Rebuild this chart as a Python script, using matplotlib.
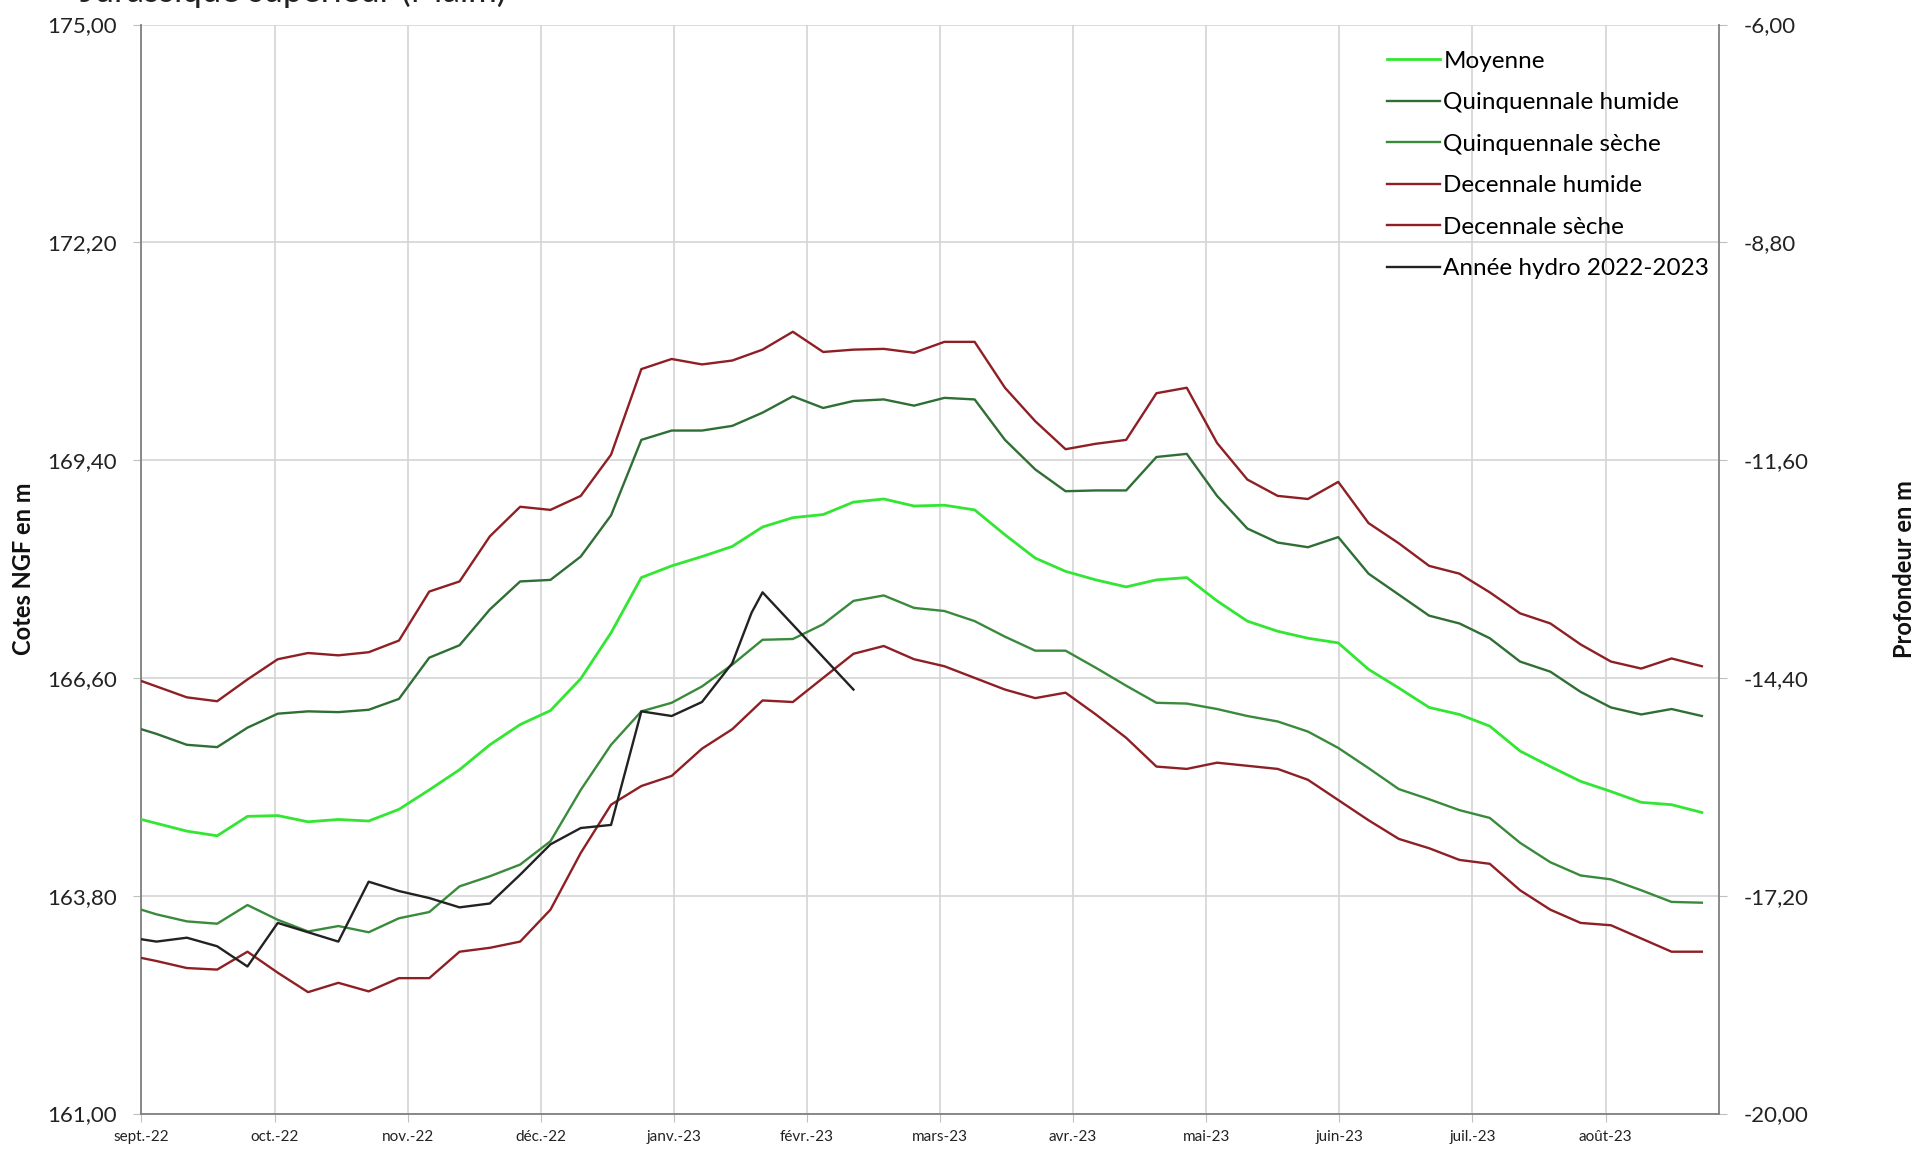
import matplotlib
matplotlib.use("Agg")
import matplotlib.pyplot as plt
from matplotlib.ticker import FuncFormatter, FixedLocator

plt.rcParams['font.family'] = ['Lato', 'DejaVu Sans']

# ---------------- data ----------------
month_labels = ["sept.-22", "oct.-22", "nov.-22", "déc.-22", "janv.-23", "févr.-23",
                "mars-23", "avr.-23", "mai-23", "juin-23", "juil.-23", "août-23"]

# x positions in "week" units (first point at origin, then weekly values)
x_week = [0.0] + [0.5 + k for k in range(52)]

moyenne = [164.78, 164.73, 164.63, 164.57, 164.82, 164.83, 164.75, 164.78, 164.76, 164.91,
           165.16, 165.42, 165.74, 166.00, 166.18, 166.59, 167.18, 167.89, 168.04, 168.16,
           168.29, 168.54, 168.66, 168.70, 168.86, 168.90, 168.81, 168.82, 168.76, 168.44,
           168.14, 167.97, 167.86, 167.77, 167.86, 167.89, 167.59, 167.33, 167.20, 167.11,
           167.05, 166.71, 166.47, 166.22, 166.13, 165.98, 165.66, 165.46, 165.27, 165.14,
           165.00, 164.97, 164.87]

quinq_humide = [165.94, 165.88, 165.74, 165.71, 165.96, 166.14, 166.17, 166.16, 166.19, 166.33,
                166.86, 167.02, 167.48, 167.84, 167.86, 168.16, 168.69, 169.66, 169.78, 169.78,
                169.84, 170.01, 170.22, 170.07, 170.16, 170.18, 170.10, 170.20, 170.18, 169.66,
                169.28, 169.00, 169.01, 169.01, 169.44, 169.48, 168.94, 168.52, 168.34, 168.28,
                168.41, 167.94, 167.67, 167.40, 167.30, 167.11, 166.81, 166.68, 166.42, 166.22,
                166.13, 166.20, 166.11]

quinq_seche = [163.62, 163.56, 163.47, 163.44, 163.68, 163.49, 163.34, 163.41, 163.33, 163.51,
               163.59, 163.92, 164.05, 164.20, 164.50, 165.16, 165.74, 166.17, 166.28, 166.49,
               166.77, 167.09, 167.10, 167.29, 167.59, 167.66, 167.50, 167.46, 167.33, 167.13,
               166.95, 166.95, 166.73, 166.50, 166.28, 166.27, 166.20, 166.11, 166.04, 165.91,
               165.70, 165.44, 165.17, 165.04, 164.90, 164.80, 164.48, 164.23, 164.06, 164.01,
               163.87, 163.72, 163.71]

dec_humide = [166.56, 166.49, 166.35, 166.30, 166.58, 166.84, 166.92, 166.89, 166.93, 167.08,
              167.71, 167.84, 168.42, 168.80, 168.76, 168.94, 169.47, 170.57, 170.70, 170.63,
              170.68, 170.82, 171.05, 170.79, 170.82, 170.83, 170.78, 170.92, 170.92, 170.33,
              169.90, 169.54, 169.61, 169.66, 170.26, 170.33, 169.62, 169.15, 168.94, 168.90,
              169.12, 168.59, 168.33, 168.04, 167.94, 167.70, 167.43, 167.30, 167.03, 166.81,
              166.72, 166.85, 166.75]

dec_seche = [163.00, 162.96, 162.87, 162.85, 163.08, 162.81, 162.56, 162.68, 162.57, 162.74,
             162.74, 163.08, 163.13, 163.21, 163.62, 164.35, 164.97, 165.21, 165.34, 165.69,
             165.94, 166.31, 166.29, 166.60, 166.91, 167.01, 166.84, 166.75, 166.60, 166.45,
             166.34, 166.41, 166.13, 165.83, 165.46, 165.43, 165.51, 165.47, 165.43, 165.29,
             165.03, 164.77, 164.53, 164.41, 164.26, 164.21, 163.87, 163.62, 163.45, 163.42,
             163.25, 163.08, 163.08]

annee_x = [0.0, 0.5, 1.5, 2.5, 3.5, 4.5, 5.5, 6.5, 7.5, 8.5, 9.5, 10.5, 11.5, 12.5, 13.5,
           14.5, 15.5, 16.5, 17.5, 18.5, 19.5, 20.14, 20.5, 23.5]
annee = [163.24, 163.21, 163.26, 163.15, 162.89, 163.45, 163.33, 163.21, 163.98, 163.86,
         163.77, 163.65, 163.70, 164.07, 164.46, 164.67, 164.71, 166.17, 166.11, 166.29,
         166.79, 167.44, 167.70, 166.45]

y_ticks = [161.0, 163.8, 166.6, 169.4, 172.2, 175.0]
depth_ticks = [-20.0, -17.2, -14.4, -11.6, -8.8, -6.0]

# ---------------- figure ----------------
W, H = 1921, 1151
fig = plt.figure(figsize=(W / 100, H / 100), dpi=100)
ax_left, ax_right, ax_top, ax_bot = 141.4, 1719.0, 24.5, 1113.5
ax = fig.add_axes([ax_left / W, 1 - ax_bot / H, (ax_right - ax_left) / W, (ax_bot - ax_top) / H])
ax_w = ax_right - ax_left

month_step = 133.1 / 30.3
month_pos = [i * month_step for i in range(len(month_labels))]

c_moy = "#33e633"
c_qh = "#2f6e34"
c_qs = "#3a8a3c"
c_dh = "#8e1f24"
c_ds = "#8e1f24"
c_an = "#222222"
lw = 1.7

ax.plot(x_week, moyenne, color=c_moy, lw=lw + 0.3, label="Moyenne", zorder=3)
ax.plot(x_week, quinq_humide, color=c_qh, lw=lw, label="Quinquennale humide", zorder=3)
ax.plot(x_week, quinq_seche, color=c_qs, lw=lw, label="Quinquennale sèche", zorder=3)
ax.plot(x_week, dec_humide, color=c_dh, lw=lw, label="Decennale humide", zorder=3)
ax.plot(x_week, dec_seche, color=c_ds, lw=lw, label="Decennale sèche", zorder=3)
ax.plot(annee_x, annee, color=c_an, lw=lw, label="Année hydro 2022-2023", zorder=4)

ax.set_xlim(0, ax_w / 30.3)
ax.set_ylim(161, 175)
ax.xaxis.set_major_locator(FixedLocator(month_pos))
ax.set_xticklabels(month_labels)
ax.yaxis.set_major_locator(FixedLocator(y_ticks))
fmt = FuncFormatter(lambda v, p: f"{v:.2f}".replace(".", ","))
ax.yaxis.set_major_formatter(fmt)

ax.grid(True, color="#d4d4d4", lw=1.2, zorder=0)
for s in ["top", "right"]:
    ax.spines[s].set_visible(False)
ax.spines["left"].set_color("#808080")
ax.spines["bottom"].set_color("#808080")
ax.spines["left"].set_linewidth(1.3)
ax.spines["bottom"].set_linewidth(1.3)

ax.tick_params(axis="x", length=6, color="#bfbfbf", labelsize=11, pad=6, labelcolor="#222222")
ax.tick_params(axis="y", length=6, color="#bfbfbf", labelsize=16, pad=11.5, labelcolor="#222222")
ax.set_ylabel("Cotes NGF en m", fontsize=17, fontweight="bold", color="#111111")
ax.yaxis.set_label_coords((35 - ax_left) / ax_w, 0.5)

ax2 = ax.twinx()
ax2.set_ylim(-20, -6)
ax2.yaxis.set_major_locator(FixedLocator(depth_ticks))
ax2.yaxis.set_major_formatter(fmt)
for s in ["top", "left", "bottom"]:
    ax2.spines[s].set_visible(False)
ax2.spines["right"].set_color("#808080")
ax2.spines["right"].set_linewidth(1.3)
ax2.tick_params(axis="y", length=6, color="#bfbfbf", labelsize=16, pad=12, labelcolor="#222222")
ax2.set_ylabel("Profondeur en m", fontsize=17, fontweight="bold", color="#111111",
               rotation=90)
ax2.yaxis.set_label_coords((1893 - ax_left) / ax_w, 0.5)

leg = ax.legend(loc="upper right", bbox_to_anchor=(1731 / W, 1 - 29 / H),
                bbox_transform=fig.transFigure, frameon=False, fontsize=17.5,
                handlelength=2.2, handletextpad=0.12, labelspacing=0.84)
leg.set_zorder(10)

fig.text(80 / W, 1 - 2 / H, "Jurassique supérieur (Malm)", fontsize=25, va="baseline",
         ha="left", color="#222222")

fig.savefig("out.png", dpi=100, facecolor="white")
